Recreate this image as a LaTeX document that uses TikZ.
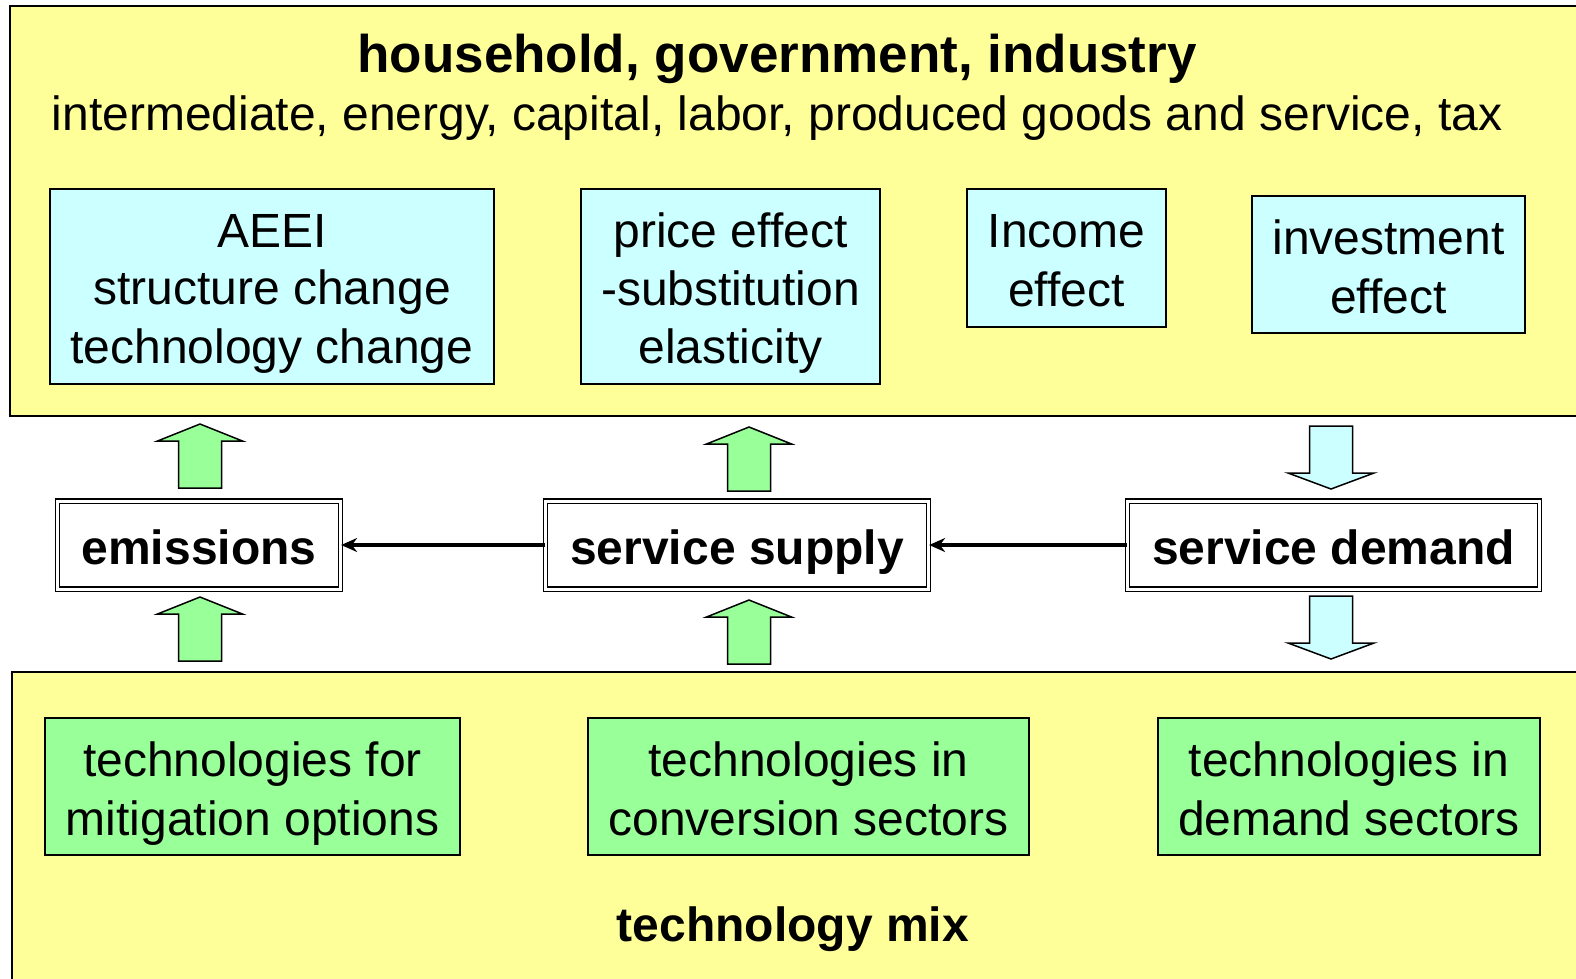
\documentclass[tikz,border=0pt]{standalone}
\usepackage{fontspec}
\setmainfont{Liberation Sans}
\usetikzlibrary{arrows.meta}
\definecolor{panelyellow}{RGB}{255,255,153}
\definecolor{effectcyan}{RGB}{204,255,255}
\definecolor{techgreen}{RGB}{153,255,153}
\newcommand{\boxfont}{\fontsize{48}{57.8}\selectfont}
\newcommand{\titlefont}{\fontsize{53}{63}\selectfont\bfseries}
\newcommand{\boxstrut}{\rule[-10pt]{0pt}{58pt}}
\tikzset{
  panel/.style={draw=black, line width=1.5pt, fill=panelyellow},
  effectbox/.style={draw=black, line width=1.2pt, fill=effectcyan, align=center, inner sep=0pt, font=\boxfont},
  techbox/.style={draw=black, line width=1.2pt, fill=techgreen, align=center, inner sep=0pt, font=\boxfont, minimum height=137pt},
  flowbox/.style={execute at begin node=\boxstrut, draw=black, double=white, double distance=3pt, line width=1.2pt, inner sep=0pt, font=\boxfont\bfseries, minimum height=88pt},
  flowline/.style={draw=black, line width=3.5pt, -{Stealth[length=16pt,width=14pt]}},
  greenarrow/.style={draw=black, line width=1.5pt, fill=techgreen, line join=miter},
  cyanarrow/.style={draw=black, line width=1.5pt, fill=effectcyan, line join=miter}
}

\begin{document}
\begin{tikzpicture}[x=1pt, y=-1pt]
		\useasboundingbox (0,0) rectangle (1576,978);
		\clip (0,0) rectangle (1576,978);
		% the two yellow panels
		\draw[panel] (10,6) rectangle (1600,416);
		\draw[panel] (12,672) rectangle (1600,1000);
		\node[anchor=base, font=\titlefont] (title) at (777,72) {household, government, industry};
		\node[anchor=base, font=\boxfont] (inputs) at (777,130) {intermediate, energy, capital, labor, produced goods and service, tax};
		% effects in the upper panel (struts keep the lines where the reference has them)
		\node[effectbox, minimum width=444pt, minimum height=195pt] (aeei) at (272,286.5) {\boxstrut AEEI\\structure change\\technology change\boxstrut};
		\node[effectbox, minimum width=299pt, minimum height=195pt] (price) at (730.5,286.5) {\boxstrut price effect\\-substitution\\elasticity\boxstrut};
		\node[effectbox, minimum width=199pt, minimum height=138pt] (income) at (1066.5,258) {\boxstrut Income\\effect\boxstrut};
		\node[effectbox, minimum width=273pt, minimum height=137pt] (invest) at (1388.5,264.5) {\boxstrut investment\\effect\boxstrut};
		% middle row
		\node[flowbox, minimum width=283pt] (emissions) at (199,545) {emissions};
		\node[flowbox, minimum width=383pt] (supply) at (737,545) {service supply};
		\node[flowbox, minimum width=412pt] (demand) at (1333.5,545) {service demand};
		\draw[flowline] (demand) -- (supply);
		\draw[flowline] (supply) -- (emissions);
		% block arrows
		\foreach \cx/\ty in {200/424, 200/597, 749/427, 749/600}
			\draw[greenarrow] (\cx,\ty) -- ++(42.5,17) -- ++(-21,0) -- ++(0,47) -- ++(-43,0) -- ++(0,-47) -- ++(-21,0) -- cycle;
		\foreach \ty in {426, 596}
			\draw[cyanarrow] (1309.5,\ty) -- ++(43,0) -- ++(0,47) -- ++(21.5,0) -- ++(-43,16) -- ++(-43,-16) -- ++(21.5,0) -- cycle;
		% technologies in the lower panel
		\node[techbox, minimum width=415pt] (mitigation) at (252.5,786.5) {\boxstrut technologies for\\mitigation options\boxstrut};
		\node[techbox, minimum width=441pt] (conversion) at (808.5,786.5) {\boxstrut technologies in\\conversion sectors\boxstrut};
		\node[techbox, minimum width=382pt] (demandtech) at (1349,786.5) {\boxstrut technologies in\\demand sectors\boxstrut};
		\node[anchor=base, font=\boxfont\bfseries] (mix) at (793,941) {technology mix};
	\end{tikzpicture}
\end{document}
